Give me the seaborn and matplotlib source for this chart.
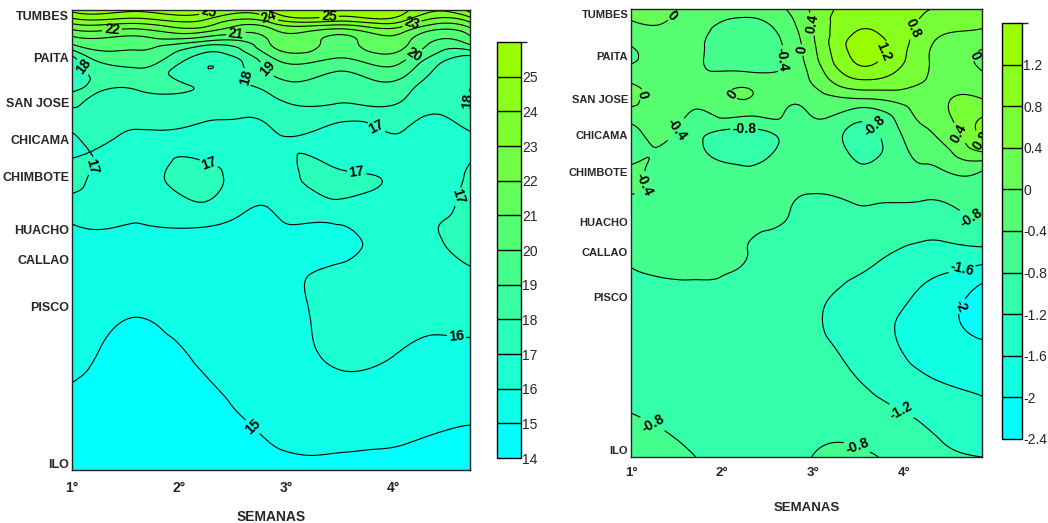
import numpy as np
import matplotlib
matplotlib.use('Agg')
import matplotlib.pyplot as plt
import matplotlib.tri as mtri
from matplotlib.colors import ListedColormap, BoundaryNorm
import seaborn as sns

# estaciones costeras y su posicion (latitud sur aprox.)
estaciones = ['TUMBES', 'PAITA', 'SAN JOSE', 'CHICAMA', 'CHIMBOTE',
              'HUACHO', 'CALLAO', 'PISCO', 'ILO']
lat_estaciones = [3.56, 4.90, 6.28, 7.45, 8.62, 10.25, 11.20, 12.66, 17.57]
semanas = [1, 2, 3, 4]
semanas_txt = ['1°', '2°', '3°', '4°']

# filas de la malla (latitud), comunes a los dos paneles
lat_malla = [3.40, 3.71, 4.03, 4.40, 4.90, 5.59, 6.28, 7.46, 8.65,
             10.21, 11.18, 12.71, 14.34, 16.06, 17.78]

# columnas de la malla (semanas) de cada panel
sem_tsm = [1.0, 1.62, 2.24, 2.86, 3.48, 4.10, 4.72]
sem_anom = [1.0, 1.64, 2.28, 2.92, 3.56, 4.21, 4.85]

# TSM (grados C): una fila por latitud de lat_malla, una columna por sem_tsm
tsm = [
    [25.3, 25.2, 25.5, 25.2, 25.6, 25.3, 25.4],
    [23.7, 23.7, 24.0, 23.6, 24.3, 24.2, 23.4],
    [21.9, 21.8, 22.4, 21.8, 21.7, 22.3, 21.6],
    [20.3, 20.5, 19.8, 21.1, 20.7, 21.3, 20.4],
    [17.7, 19.6, 17.5, 19.9, 20.0, 20.25, 17.7],
    [17.7, 18.3, 17.6, 18.7, 18.6, 18.8, 17.8],
    [18.1, 17.7, 17.6, 17.7, 18.05, 17.9, 18.1],
    [16.8, 16.8, 16.7, 16.8, 16.4, 16.8, 16.8],
    [17.3, 16.6, 17.3, 16.5, 17.25, 16.6, 17.2],
    [15.9, 15.95, 15.97, 15.9, 15.9, 16.8, 17.3],
    [15.7, 15.7, 15.8, 15.8, 15.9, 16.6, 17.1],
    [15.5, 15.1, 15.4, 15.6, 16.3, 16.3, 16.3],
    [15.2, 14.8, 15.05, 15.4, 16.1, 15.9, 15.8],
    [14.7, 14.6, 14.8, 15.2, 15.4, 15.3, 15.1],
    [14.4, 14.4, 14.4, 14.8, 14.9, 14.8, 14.8],
]

# anomalia de TSM (grados C): filas = lat_malla, columnas = sem_anom
anom = [
    [0.15, -0.10, -0.30, 0.35, 1.00, 0.85, 0.60],
    [0.02, -0.15, -0.42, 0.28, 1.15, 0.75, 0.50],
    [-0.10, -0.20, -0.55, 0.22, 1.20, 0.65, 0.40],
    [-0.30, -0.25, -0.62, 0.15, 1.35, 0.55, 0.20],
    [-0.50, -0.30, -0.60, 0.08, 1.32, 0.48, -0.10],
    [-0.10, -0.28, -0.25, -0.05, 0.90, 0.42, 0.10],
    [0.10, -0.30, 0.00, -0.30, 0.00, 0.25, 0.40],
    [-0.60, -0.60, -1.00, -0.50, -0.95, -0.10, 0.90],
    [-0.35, -0.60, -0.65, -0.65, -0.70, -0.50, -0.45],
    [-0.60, -0.70, -0.72, -0.85, -0.95, -1.00, -0.75],
    [-0.75, -0.75, -0.80, -0.95, -1.10, -1.30, -1.30],
    [-0.85, -0.85, -0.92, -1.12, -1.35, -1.70, -2.20],
    [-0.90, -0.90, -1.00, -1.10, -1.35, -1.75, -1.90],
    [-0.82, -0.90, -1.00, -0.95, -1.10, -1.35, -1.55],
    [-0.70, -0.78, -0.95, -0.82, -0.75, -1.05, -1.20],
]

niveles_tsm = [14, 15, 16, 17, 18, 19, 20, 21, 22, 23, 24, 25, 26]
niveles_anom = [-2.4, -2.0, -1.6, -1.2, -0.8, -0.4, 0.0, 0.4, 0.8, 1.2, 1.6]

sns.set_theme(style='white')
plt.rcParams['font.family'] = ['Liberation Sans Narrow', 'Liberation Sans', 'DejaVu Sans']
plt.rcParams['axes.unicode_minus'] = False
plt.rcParams['contour.negative_linestyle'] = 'solid'

fig = plt.figure(figsize=(10.48, 5.23), dpi=100)


def panel(rect_ax, rect_cb, sem_malla, valores, niveles, xmax, sty):
    ax = fig.add_axes(rect_ax)
    cax = fig.add_axes(rect_cb)

    xx, yy = np.meshgrid(sem_malla, lat_malla)
    tri = mtri.Triangulation(xx.ravel(), yy.ravel())
    z = np.array(valores, dtype=float).ravel()
    # suavizado de la malla con el refinador de matplotlib
    tri_f, z_f = mtri.UniformTriRefiner(tri).refine_field(z, subdiv=4)
    z_f = np.clip(z_f, niveles[0] + 1e-6, niveles[-1] - 1e-6)

    colores = sns.blend_palette(['#00FFFF', '#99FF00'], n_colors=len(niveles) - 1)
    cmap = ListedColormap(colores)
    norm = BoundaryNorm(niveles, cmap.N)

    cf = ax.tricontourf(tri_f, z_f, levels=niveles, cmap=cmap, norm=norm)
    cs = ax.tricontour(tri_f, z_f, levels=niveles, colors='black',
                       linewidths=0.8, linestyles='solid')
    etiquetas = ax.clabel(cs, inline=True, fmt='%g', fontsize=10, inline_spacing=2)
    for t in etiquetas:
        t.set_fontweight('bold')

    ax.set_xlim(1, xmax)
    ax.set_ylim(lat_malla[-1], lat_malla[0])
    ax.set_xticks(semanas)
    ax.set_xticklabels(semanas_txt, fontweight='bold', fontsize=sty['xt'])
    ax.set_yticks(lat_estaciones)
    ax.set_yticklabels(estaciones, fontweight='bold', fontsize=sty['yt'])
    ax.tick_params(axis='x', length=0, pad=sty['xpad'])
    ax.tick_params(axis='y', length=0, pad=2)
    ax.set_xlabel('SEMANAS', fontweight='bold', fontsize=sty['xt'], labelpad=sty['lpad'])
    for s in ax.spines.values():
        s.set_color('#222222')
        s.set_linewidth(1.0)

    cb = fig.colorbar(cf, cax=cax, ticks=niveles[:-1], drawedges=True, format='%g')
    cb.outline.set_edgecolor('black')
    cb.outline.set_linewidth(1.0)
    cb.dividers.set_color('black')
    cb.dividers.set_linewidth(1.0)
    cb.ax.tick_params(length=0, labelsize=10, pad=1)
    return ax


W, H = 1048, 523
panel([72 / W, (H - 470) / H, 398 / W, 460 / H],
      [497 / W, (H - 458) / H, 24 / W, 416 / H],
      sem_tsm, tsm, niveles_tsm, sem_tsm[-1],
      dict(xt=10, yt=9, xpad=8, lpad=11))
panel([631 / W, (H - 457) / H, 351 / W, 448 / H],
      [1002 / W, (H - 439) / H, 20 / W, 416 / H],
      sem_anom, anom, niveles_anom, sem_anom[-1],
      dict(xt=9.5, yt=8, xpad=7, lpad=17))

fig.savefig('out.png', dpi=100)
